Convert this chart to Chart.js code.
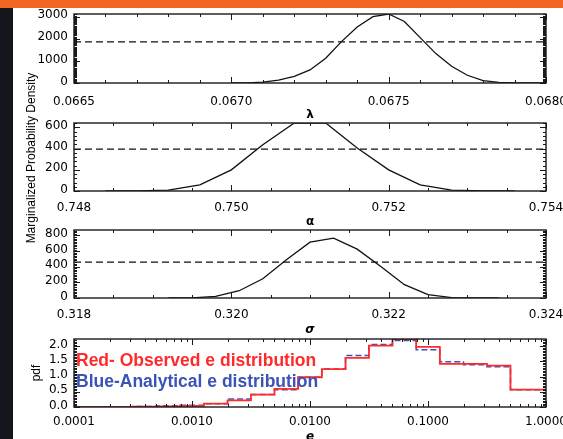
<!DOCTYPE html>
<html>
<head>
<meta charset="utf-8">
<script src="https://cdn.jsdelivr.net/npm/chart.js@4.4.0/dist/chart.umd.min.js"></script>
<style>
  html, body { margin: 0; padding: 0; background: #fff; }
  body { width: 563px; height: 439px; position: relative; overflow: hidden; font-family: 'DejaVu Sans', sans-serif; }
  #topbar { position: absolute; left: 0; top: 0; width: 563px; height: 8px; background: #f26522; }
  #leftbar { position: absolute; left: 0; top: 8px; width: 13px; height: 431px; background: #15151d; }
  canvas { position: absolute; left: 0; }
  .note { position: absolute; left: 76px; font: bold 17.5px 'Liberation Sans', Arial, sans-serif; line-height: 1; white-space: nowrap; }
  #ytitle { position: absolute; left: -99px; top: 151px; width: 260px; text-align: center;
            font: 12px 'Liberation Sans', Arial, sans-serif; line-height: 14px; color: #000;
            transform: rotate(-90deg); transform-origin: 50% 50%; }
</style>
</head>
<body>
<div id="topbar"></div>
<div id="leftbar"></div>
<canvas id="c1"></canvas>
<canvas id="c2"></canvas>
<canvas id="c3"></canvas>
<canvas id="c4"></canvas>
<div id="ytitle">Marginalized Probability Density</div>
<div class="note" style="top:352px;color:#ff2b2b;">Red- Observed e distribution</div>
<div class="note" style="top:373px;color:#3b53b5;">Blue-Analytical e distribution</div>

<script>
// lambda posterior
const lambdaX = [0.06700, 0.06705, 0.06710, 0.06715, 0.06720, 0.06725, 0.06730, 0.06735, 0.06740, 0.06745,
                 0.06750, 0.06755, 0.06760, 0.06765, 0.06770, 0.06775, 0.06780, 0.06785, 0.06790, 0.06795, 0.06800];
const lambdaY = [0, 10, 40, 130, 300, 590, 1120, 1870, 2530, 3000,
                 3120, 2780, 2050, 1330, 760, 350, 110, 30, 5, 0, 0];
const lambdaLevel = 1860;
const lambdaTicksX = [0.0665, 0.0670, 0.0675, 0.0680];
const lambdaTicksY = [0, 1000, 2000, 3000];

// alpha posterior
const alphaX = [0.7484, 0.7488, 0.7492, 0.7496, 0.7500, 0.7504, 0.7508, 0.7512, 0.7516, 0.7520, 0.7524, 0.7528, 0.7532, 0.7536];
const alphaY = [0, 2, 9, 57, 199, 435, 640, 640, 404, 199, 57, 9, 2, 0];
const alphaLevel = 395;
const alphaTicksX = [0.748, 0.750, 0.752, 0.754];
const alphaTicksY = [0, 200, 400, 600];

// sigma posterior
const sigmaX = [0.3192, 0.3195, 0.3198, 0.3201, 0.3204, 0.3207, 0.3210, 0.3213, 0.3216, 0.3219, 0.3222, 0.3225, 0.3228, 0.3231, 0.3234];
const sigmaY = [0, 2, 20, 93, 246, 489, 714, 765, 625, 403, 170, 42, 6, 1, 0];
const sigmaLevel = 460;
const sigmaTicksX = [0.318, 0.320, 0.322, 0.324];
const sigmaTicksY = [0, 200, 400, 600, 800];

// eccentricity histograms (left bin edges, last entry closes the final bin)
const eEdges = [0.0001, 0.000126, 0.0002, 0.000316, 0.0005, 0.000794, 0.00126, 0.002, 0.00316, 0.005, 0.00794,
                0.0126, 0.02, 0.0316, 0.05, 0.0794, 0.126, 0.2, 0.316, 0.5, 0.794, 1.0];
const eObserved   = [0, 0, 0, 0.01, 0.02, 0.04, 0.11, 0.22, 0.41, 0.60, 0.98, 1.25, 1.62, 2.02, 2.24, 1.98, 1.42, 1.42, 1.36, 0.57, 0.57];
const eAnalytical = [0, 0, 0.01, 0.02, 0.04, 0.06, 0.11, 0.26, 0.41, 0.57, 0.98, 1.25, 1.70, 2.06, 2.19, 1.89, 1.49, 1.39, 1.33, 0.57, 0.57];
const eTicksX = [0.0001, 0.001, 0.01, 0.1, 1.0];
const eTicksY = [0.0, 0.5, 1.0, 1.5, 2.0];

const tickFont = { family: 'DejaVu Sans', size: 12 };
const greekFont = { family: 'DejaVu Sans', size: 12, weight: 'bold', lineHeight: 1 };

function steps(min, max, step) {
  const out = [];
  for (let v = min; v <= max + step * 1e-6; v += step) out.push(v);
  return out;
}
function logMinor(min, max) {
  const out = [];
  for (let d = min; d < max; d *= 10) for (let k = 1; k < 10; k++) out.push(d * k);
  return out;
}

// box with inward major/minor ticks on all four sides
const idlFrame = {
  id: 'idlFrame',
  afterDatasetsDraw(chart, args, o) {
    const { ctx, chartArea: a, scales: { x, y } } = chart;
    ctx.save();
    ctx.strokeStyle = '#1a1a1a';
    ctx.lineWidth = 1;
    ctx.beginPath();
    const tx = (v, len) => {
      const p = Math.round(x.getPixelForValue(v)) + 0.5;
      if (p < a.left - 1 || p > a.right + 1) return;
      ctx.moveTo(p, a.bottom); ctx.lineTo(p, a.bottom - len);
      ctx.moveTo(p, a.top); ctx.lineTo(p, a.top + len);
    };
    const ty = (v, len) => {
      const p = Math.round(y.getPixelForValue(v)) + 0.5;
      if (p < a.top - 1 || p > a.bottom + 1) return;
      ctx.moveTo(a.left, p); ctx.lineTo(a.left + len, p);
      ctx.moveTo(a.right, p); ctx.lineTo(a.right - len, p);
    };
    o.xMinor.forEach(v => tx(v, 3));
    o.xMajor.forEach(v => tx(v, 6));
    o.yMinor.forEach(v => ty(v, 3));
    o.yMajor.forEach(v => ty(v, 6));
    ctx.stroke();
    ctx.lineWidth = 1.4;
    ctx.strokeRect(a.left, a.top, a.width, a.height);
    ctx.restore();
  }
};

function pts(xs, ys) {
  return xs.map((x, i) => ({ x: x, y: ys[Math.min(i, ys.length - 1)] }));
}
function curve(xs, ys) {
  return { data: pts(xs, ys), borderColor: '#111', borderWidth: 1.3, pointRadius: 0, tension: 0 };
}
function level(xmin, xmax, v) {
  return { data: [{ x: xmin, y: v }, { x: xmax, y: v }], borderColor: '#111', borderWidth: 1.3,
           borderDash: [7, 4], pointRadius: 0 };
}

function panel(id, c) {
  const cv = document.getElementById(id);
  cv.width = 563;
  cv.height = 5 + c.plotH + c.axisH;
  cv.style.top = (c.plotTop - 5) + 'px';
  return new Chart(cv, {
    type: 'line',
    data: { datasets: c.datasets },
    options: {
      responsive: false,
      animation: false,
      events: [],
      layout: { padding: { top: 5, right: 17, left: 0, bottom: 0 } },
      plugins: {
        legend: { display: false },
        tooltip: { enabled: false },
        idlFrame: c.frame
      },
      scales: {
        x: {
          type: c.xType || 'linear',
          min: c.xTicks[0], max: c.xTicks[c.xTicks.length - 1],
          grid: { display: false, drawTicks: false }, border: { display: false },
          ticks: { font: tickFont, color: '#000', padding: c.xPad, autoSkip: false, maxRotation: 0,
                   callback: v => Number(v).toFixed(c.xDec) },
          afterBuildTicks: s => { s.ticks = c.xTicks.map(v => ({ value: v })); },
          afterFit: s => { s.height = c.axisH; s.paddingLeft = 0; s.paddingRight = 0; },
          title: { display: true, text: c.xTitle, color: '#000', font: c.titleFont || greekFont,
                   padding: { top: 0, bottom: 0 } }
        },
        y: {
          min: 0, max: c.yMax,
          grid: { display: false, drawTicks: false }, border: { display: false },
          ticks: { font: tickFont, color: '#000', padding: 6, labelOffset: -1.5, autoSkip: false,
                   callback: v => Number(v).toFixed(c.yDec) },
          afterBuildTicks: s => { s.ticks = c.yTicks.map(v => ({ value: v })); },
          afterFit: s => { s.width = 74; s.paddingTop = 0; s.paddingBottom = 0; },
          title: c.yTitle ? { display: true, text: c.yTitle, color: '#000',
                              font: { family: 'Liberation Sans', size: 12, lineHeight: 1 },
                              padding: { top: 31, bottom: 0 } } : { display: false }
        }
      }
    },
    plugins: [idlFrame]
  });
}

panel('c1', {
  plotTop: 14, plotH: 69, axisH: 38, xPad: 12,
  xTicks: lambdaTicksX, xDec: 4, yTicks: lambdaTicksY, yDec: 0, yMax: 3120, xTitle: 'λ',
  datasets: [curve(lambdaX, lambdaY), level(0.0665, 0.0680, lambdaLevel)],
  frame: { xMajor: lambdaTicksX, xMinor: steps(0.0665, 0.0680, 0.0001),
           yMajor: lambdaTicksY, yMinor: steps(0, 3100, 50) }
});

panel('c2', {
  plotTop: 123, plotH: 68, axisH: 37, xPad: 10,
  xTicks: alphaTicksX, xDec: 3, yTicks: alphaTicksY, yDec: 0, yMax: 640, xTitle: 'α',
  datasets: [curve(alphaX, alphaY), level(0.748, 0.754, alphaLevel)],
  frame: { xMajor: alphaTicksX, xMinor: steps(0.748, 0.754, 0.0005),
           yMajor: alphaTicksY, yMinor: steps(0, 640, 40) }
});

panel('c3', {
  plotTop: 230, plotH: 68, axisH: 38, xPad: 10,
  xTicks: sigmaTicksX, xDec: 3, yTicks: sigmaTicksY, yDec: 0, yMax: 870, xTitle: 'σ',
  titleFont: { family: 'DejaVu Sans', size: 12, weight: 'bold', style: 'italic', lineHeight: 1 },
  datasets: [curve(sigmaX, sigmaY), level(0.318, 0.324, sigmaLevel)],
  frame: { xMajor: sigmaTicksX, xMinor: steps(0.318, 0.324, 0.0005),
           yMajor: sigmaTicksY, yMinor: steps(0, 860, 20) }
});

panel('c4', {
  plotTop: 339, plotH: 68, axisH: 36, xPad: 8, xType: 'logarithmic',
  xTicks: eTicksX, xDec: 4, yTicks: eTicksY, yDec: 1, yMax: 2.24, xTitle: 'e', yTitle: 'pdf',
  titleFont: { family: 'DejaVu Sans', size: 12, weight: 'bold', style: 'italic', lineHeight: 1 },
  datasets: [
    { data: pts(eEdges, eObserved), stepped: 'before', borderColor: '#ff2b2b', borderWidth: 1.8, pointRadius: 0 },
    { data: pts(eEdges, eAnalytical), stepped: 'before', borderColor: '#3b53b5', borderWidth: 1.5,
      borderDash: [6, 3], pointRadius: 0 }
  ],
  frame: { xMajor: eTicksX, xMinor: logMinor(0.0001, 1),
           yMajor: eTicksY, yMinor: steps(0, 2.2, 0.05) }
});
</script>
</body>
</html>
